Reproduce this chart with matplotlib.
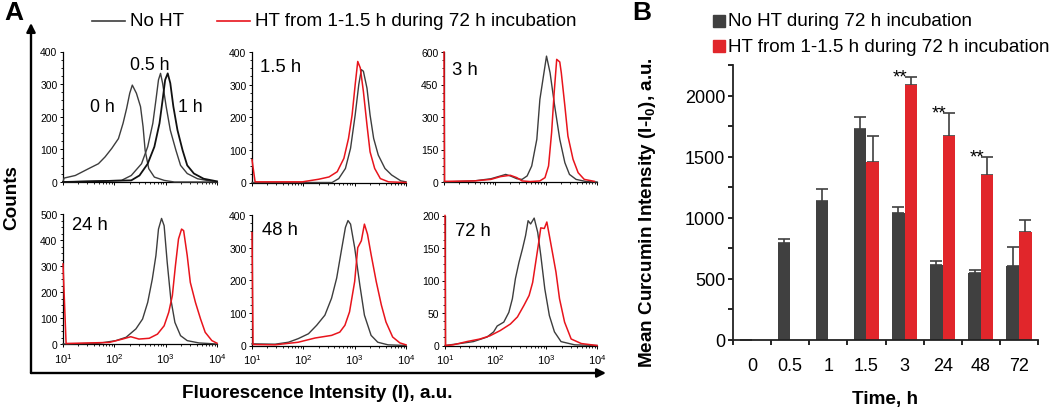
import numpy as np
import matplotlib.pyplot as plt
from matplotlib.lines import Line2D
from matplotlib.patches import FancyArrowPatch, Rectangle
from matplotlib.ticker import MultipleLocator, LogLocator, NullFormatter

plt.rcParams['font.family'] = ['Liberation Sans', 'DejaVu Sans']
plt.rcParams['mathtext.fontset'] = 'custom'
plt.rcParams['mathtext.rm'] = 'Liberation Sans'
plt.rcParams['mathtext.bf'] = 'Liberation Sans:bold'
plt.rcParams['mathtext.it'] = 'Liberation Sans:italic'

GRAY = '#3d3d3d'
BLACK = '#111111'
RED = '#e8141c'
BAR_DARK = '#404040'
BAR_RED = '#e1262b'

# ---- panel A: histograms, log10(intensity) vs counts ----
h0_x = [1.0, 1.02, 1.24, 1.50, 1.69, 1.82, 1.95, 2.08, 2.17, 2.24, 2.30, 2.35, 2.43, 2.51, 2.56, 2.60, 2.67, 2.78, 2.97, 3.17, 4.0]
h0_y = [0, 12, 20, 41, 56, 77, 103, 133, 180, 226, 272, 297, 272, 231, 169, 97, 41, 15, 5, 0, 0]
h05_x = [1.0, 2.14, 2.33, 2.53, 2.65, 2.75, 2.81, 2.86, 2.90, 2.94, 3.01, 3.09, 3.20, 3.29, 3.42, 3.62, 3.87, 4.0]
h05_y = [0, 5, 20, 56, 108, 180, 251, 313, 333, 303, 231, 159, 97, 51, 26, 10, 3, 1]
h1_x = [1.0, 2.33, 2.49, 2.65, 2.78, 2.88, 2.94, 2.99, 3.04, 3.09, 3.15, 3.23, 3.33, 3.42, 3.55, 3.74, 4.0]
h1_y = [0, 5, 20, 56, 108, 180, 251, 313, 333, 303, 231, 159, 97, 51, 26, 10, 2]

h15_dark_x = [1.0, 2.56, 2.69, 2.82, 2.92, 3.01, 3.08, 3.13, 3.17, 3.24, 3.30, 3.37, 3.46, 3.59, 3.72, 3.90, 4.0]
h15_dark_y = [0, 0, 12, 43, 105, 207, 300, 346, 341, 289, 207, 135, 84, 43, 23, 5, 2]
h15_red_x = [1.0, 1.06, 1.98, 2.30, 2.50, 2.66, 2.79, 2.88, 2.95, 3.01, 3.06, 3.11, 3.17, 3.24, 3.30, 3.39, 3.50, 3.66, 4.0]
h15_red_y = [70, 2, 2, 10, 17, 33, 74, 135, 207, 300, 371, 351, 279, 176, 94, 43, 12, 2, 0]

h3_dark_x = [1.0, 1.59, 1.92, 2.11, 2.21, 2.30, 2.43, 2.53, 2.63, 2.72, 2.82, 2.88, 2.95, 3.01, 3.08, 3.17, 3.27, 3.37, 3.46, 3.59, 3.79, 4.0]
h3_dark_y = [0, 5, 15, 28, 35, 28, 15, 12, 28, 74, 197, 381, 489, 581, 504, 351, 197, 89, 35, 12, 2, 0]
h3_red_x = [1.0, 1.01, 1.59, 1.92, 2.11, 2.30, 2.43, 2.53, 2.69, 2.88, 2.98, 3.05, 3.11, 3.16, 3.21, 3.27, 3.30, 3.37, 3.43, 3.53, 3.63, 3.75, 3.95]
h3_red_y = [600, 3, 5, 12, 25, 31, 20, 5, 2, 5, 20, 74, 228, 412, 566, 554, 504, 351, 212, 105, 43, 12, 3]

h24_dark_x = [1.0, 1.71, 2.03, 2.23, 2.42, 2.55, 2.65, 2.74, 2.81, 2.86, 2.92, 2.97, 3.03, 3.10, 3.18, 3.29, 3.42, 3.65, 4.0]
h24_dark_y = [0, 3, 13, 26, 58, 96, 160, 250, 340, 442, 483, 455, 314, 173, 83, 32, 13, 4, 0]
h24_red_x = [1.0, 1.06, 1.90, 2.16, 2.32, 2.48, 2.68, 2.84, 2.97, 3.06, 3.13, 3.19, 3.25, 3.31, 3.35, 3.42, 3.48, 3.58, 3.68, 3.77, 3.90, 4.0]
h24_red_y = [308, 2, 6, 19, 28, 19, 22, 38, 70, 122, 186, 301, 404, 442, 436, 340, 237, 160, 96, 45, 13, 3]

h48_dark_x = [1.0, 1.45, 1.71, 1.90, 2.10, 2.26, 2.42, 2.55, 2.65, 2.74, 2.82, 2.87, 2.92, 3.00, 3.10, 3.19, 3.32, 3.45, 3.65, 4.0]
h48_dark_y = [5, 4, 10, 21, 36, 62, 93, 145, 207, 290, 362, 383, 372, 300, 186, 93, 31, 10, 2, 0]
h48_red_x = [1.0, 1.02, 1.45, 1.90, 2.23, 2.55, 2.71, 2.81, 2.90, 3.00, 3.06, 3.13, 3.19, 3.25, 3.32, 3.42, 3.52, 3.61, 3.74, 3.88, 4.0]
h48_red_y = [346, 3, 2, 10, 23, 31, 41, 62, 103, 196, 300, 321, 372, 341, 279, 196, 124, 72, 26, 8, 2]

h72_dark_x = [1.0, 1.29, 1.56, 1.83, 1.96, 2.03, 2.16, 2.26, 2.33, 2.39, 2.46, 2.53, 2.59, 2.64, 2.69, 2.76, 2.83, 2.89, 2.97, 3.06, 3.16, 3.29, 3.56, 4.0]
h72_dark_y = [0, 3, 6, 13, 21, 30, 36, 51, 72, 103, 128, 149, 169, 192, 187, 196, 174, 139, 87, 46, 21, 6, 1, 0]
h72_red_x = [1.0, 1.01, 1.16, 1.43, 1.69, 1.89, 2.09, 2.29, 2.43, 2.56, 2.66, 2.73, 2.79, 2.86, 2.89, 2.96, 3.01, 3.06, 3.13, 3.19, 3.26, 3.36, 3.49, 3.69, 4.0]
h72_red_y = [200, 0, 1, 6, 10, 15, 23, 33, 44, 62, 77, 97, 128, 164, 181, 180, 190, 169, 139, 113, 72, 36, 10, 3, 0]

# ---- panel B: mean curcumin intensity ----
times = ['0', '0.5', '1', '1.5', '3', '24', '48', '72']
no_ht = [0, 790, 1140, 1730, 1040, 610, 545, 605]
no_ht_err = [np.nan, 40, 95, 95, 45, 35, 30, 160]
ht = [np.nan, np.nan, np.nan, 1455, 2090, 1665, 1350, 880]
ht_err = [np.nan, np.nan, np.nan, 210, 60, 190, 145, 100]
signif = [False, False, False, False, True, True, True, False]

W, H = 1050, 410
fig = plt.figure(figsize=(10.5, 4.1), dpi=100)
BIG = 13.6


def fx(x):
    return x / W


def fy(y):
    return 1 - y / H


def px_axes(left, top, right, bottom):
    return fig.add_axes([fx(left), fy(bottom), (right - left) / W, (bottom - top) / H])


panels = [
    # label, label pos, ymax, step, curves, box (l, t, r, b)
    (None, None, 400, 100,
     [(h0_x, h0_y, GRAY, 1.0), (h05_x, h05_y, GRAY, 1.0), (h1_x, h1_y, BLACK, 1.3)],
     (63, 52.5, 217, 183)),
    ('1.5 h', (281, 68), 400, 100,
     [(h15_dark_x, h15_dark_y, GRAY, 1.0), (h15_red_x, h15_red_y, RED, 1.1)],
     (252, 53, 406, 183.5)),
    ('3 h', (465, 71), 600, 150,
     [(h3_dark_x, h3_dark_y, GRAY, 1.0), (h3_red_x, h3_red_y, RED, 1.1)],
     (444, 53, 597, 183)),
    ('24 h', (90, 226), 500, 100,
     [(h24_dark_x, h24_dark_y, GRAY, 1.0), (h24_red_x, h24_red_y, RED, 1.1)],
     (63, 215, 217, 345)),
    ('48 h', (280, 231), 400, 100,
     [(h48_dark_x, h48_dark_y, GRAY, 1.0), (h48_red_x, h48_red_y, RED, 1.1)],
     (252, 216, 406, 346.5)),
    ('72 h', (473, 232), 200, 50,
     [(h72_dark_x, h72_dark_y, GRAY, 1.0), (h72_red_x, h72_red_y, RED, 1.1)],
     (445, 216.5, 597, 346.5)),
]

for i, (lab, lpos, ymax, step, curves, box) in enumerate(panels):
    ax = px_axes(*box)
    for cx, cy, col, lw in curves:
        ax.plot(10 ** np.array(cx), cy, color=col, lw=lw, clip_on=False, zorder=3)
    ax.set_xscale('log')
    ax.set_xlim(10, 1e4)
    ax.set_ylim(0, ymax)
    ax.yaxis.set_major_locator(MultipleLocator(step))
    ax.yaxis.set_minor_locator(MultipleLocator(step / 4))
    ax.xaxis.set_major_locator(LogLocator(base=10))
    ax.xaxis.set_minor_locator(LogLocator(base=10, subs=np.arange(2, 10)))
    ax.xaxis.set_minor_formatter(NullFormatter())
    for s in ['top', 'right']:
        ax.spines[s].set_visible(False)
    for s in ['left', 'bottom']:
        ax.spines[s].set_linewidth(0.9)
    ax.tick_params(which='major', direction='out', length=2.5, width=0.7,
                   labelsize=7.5, pad=1.5)
    ax.tick_params(which='minor', direction='out', length=1.5, width=0.6)
    ax.tick_params(axis='x', labelsize=8, pad=2.5)
    if i < 3:
        ax.tick_params(axis='x', labelbottom=False)
    if lab:
        fig.text(fx(lpos[0]), fy(lpos[1]), lab, fontsize=13.3, ha='center', va='center')

fig.text(fx(102), fy(107), '0 h', fontsize=12.8, ha='center', va='center')
fig.text(fx(150), fy(66), '0.5 h', fontsize=12.8, ha='center', va='center')
fig.text(fx(190), fy(107), '1 h', fontsize=12.8, ha='center', va='center')

# axes arrows of panel A
for end in [(31, 24), (606, 374)]:
    fig.add_artist(FancyArrowPatch((fx(31), fy(374)), (fx(end[0]), fy(end[1])),
                                   transform=fig.transFigure, arrowstyle='-|>',
                                   mutation_scale=13, lw=1.7, color='black',
                                   shrinkA=0, shrinkB=0))
fig.text(fx(12), fy(198), 'Counts', rotation=90, fontsize=BIG, fontweight='bold',
         ha='center', va='center')
fig.text(fx(317), fy(394), 'Fluorescence Intensity (I), a.u.', fontsize=BIG,
         fontweight='bold', ha='center', va='center')

# legend of panel A
fig.add_artist(Line2D([fx(92), fx(125)], [fy(22), fy(22)], color=GRAY, lw=1.2))
fig.text(fx(130), fy(22), 'No HT', fontsize=BIG, va='center')
fig.add_artist(Line2D([fx(217), fx(250)], [fy(22), fy(22)], color=RED, lw=1.2))
fig.text(fx(255), fy(22), 'HT from 1-1.5 h during 72 h incubation', fontsize=BIG, va='center')

fig.text(fx(4), fy(1), 'A', fontsize=19, fontweight='bold', va='top')
fig.text(fx(632), fy(1), 'B', fontsize=19, fontweight='bold', va='top')

# ---- panel B ----
axb = px_axes(733, 66, 1038, 341)
n = len(times)
idx = np.arange(n)
bw = 0.33
axb.bar(idx - bw / 2, no_ht, bw, color=BAR_DARK, zorder=2)
axb.bar(idx + bw / 2, ht, bw, color=BAR_RED, zorder=2)
no_ht_arr = np.array(no_ht, float)
ht_arr = np.array(ht, float)
axb.errorbar(idx - bw / 2, no_ht_arr, yerr=[np.zeros(n), no_ht_err], fmt='none',
             ecolor=BAR_DARK, elinewidth=1.2, capsize=4.3, capthick=1.2, zorder=1)
axb.errorbar(idx + bw / 2, ht_arr, yerr=[np.zeros(n), ht_err], fmt='none',
             ecolor=BAR_DARK, elinewidth=1.2, capsize=4.3, capthick=1.2, zorder=1)
for i in range(n):
    if signif[i]:
        axb.annotate('**', xy=(i + bw / 2, ht[i] + ht_err[i]), xytext=(-7.5, -3),
                     textcoords='offset points', ha='center', va='baseline', fontsize=13.5)

axb.set_xlim(-0.5, n - 0.5)
axb.set_ylim(0, 2250)
axb.set_xticks(idx)
axb.set_xticklabels(times)
axb.set_xticks(np.arange(n + 1) - 0.5, minor=True)
axb.yaxis.set_major_locator(MultipleLocator(500))
axb.yaxis.set_minor_locator(MultipleLocator(250))
for s in ['top', 'right']:
    axb.spines[s].set_visible(False)
for s in ['left', 'bottom']:
    axb.spines[s].set_linewidth(1.3)
    axb.spines[s].set_color('#222222')
axb.tick_params(axis='x', which='major', length=0, pad=12, labelsize=13)
axb.tick_params(axis='x', which='minor', length=3.5, width=1.2, direction='out')
axb.tick_params(axis='y', which='major', length=3.5, width=1.2, direction='out',
                labelsize=13, pad=2)
axb.tick_params(axis='y', which='minor', length=3.5, width=1.2, direction='out')

fig.text(fx(885), fy(400), 'Time, h', fontsize=BIG, fontweight='bold', ha='center', va='center')
fig.text(fx(648), fy(213), r'Mean Curcumin Intensity (I-$\mathbf{I_0}$), a.u.', rotation=90,
         fontsize=BIG, fontweight='bold', ha='center', va='center')

# legend of panel B
fig.add_artist(Rectangle((fx(713), fy(28)), 12 / W, 12 / H, transform=fig.transFigure,
                         color=BAR_DARK))
fig.text(fx(728), fy(22), 'No HT during 72 h incubation', fontsize=BIG, va='center')
fig.add_artist(Rectangle((fx(713), fy(53)), 12 / W, 12 / H, transform=fig.transFigure,
                         color=BAR_RED))
fig.text(fx(728), fy(47), 'HT from 1-1.5 h during 72 h incubation', fontsize=BIG, va='center')

fig.savefig('out.png', dpi=100)
